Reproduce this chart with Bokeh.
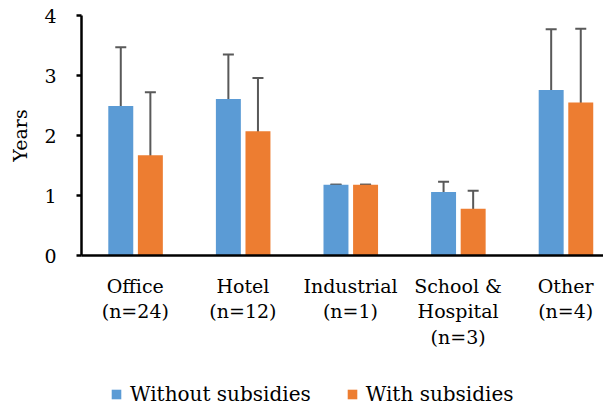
from bokeh.plotting import figure
from bokeh.layouts import column
from bokeh.models import ColumnDataSource, Whisker, TeeHead, FixedTicker, Range1d, Legend, LegendItem
from bokeh.transform import dodge
from bokeh.embed import file_html
from bokeh.resources import INLINE

categories = ["Office\n(n=24)", "Hotel\n(n=12)", "Industrial\n(n=1)", "School &\nHospital\n(n=3)", "Other\n(n=4)"]
series_names = ["Without subsidies", "With subsidies"]
without_vals = [2.49, 2.61, 1.18, 1.06, 2.76]
without_lo = [1.50, 1.87, 1.18, 0.90, 1.74]
without_hi = [3.47, 3.35, 1.18, 1.23, 3.77]
with_vals = [1.67, 2.07, 1.18, 0.78, 2.55]
with_lo = [0.63, 1.20, 1.18, 0.51, 1.29]
with_hi = [2.72, 2.96, 1.18, 1.08, 3.78]
y_ticks = [0, 1, 2, 3, 4]

BLUE = "#5B9BD5"
ORANGE = "#ED7D31"
ERR = "#595959"
FONT = "DejaVu Serif"
FS = "19px"

idx = [i + 0.5 for i in range(len(categories))]
src = ColumnDataSource(dict(idx=idx, wo=without_vals, wo_lo=without_lo, wo_hi=without_hi,
                            wi=with_vals, wi_lo=with_lo, wi_hi=with_hi))

H1 = 372
p = figure(width=603, height=H1, output_backend="svg", toolbar_location=None,
           x_range=Range1d(0, 522 / 107.6), y_range=Range1d(0, 4),
           min_border_left=81, min_border_right=0, min_border_top=15, min_border_bottom=H1 - 255)
p.outline_line_color = None
p.xgrid.visible = False
p.ygrid.visible = False

p.vbar(x=dodge("idx", -0.135, range=p.x_range), top="wo", width=0.232, source=src,
       fill_color=BLUE, line_color=None)
p.vbar(x=dodge("idx", 0.14, range=p.x_range), top="wi", width=0.232, source=src,
       fill_color=ORANGE, line_color=None)

for off, lo, hi in [(-0.135, "wo_lo", "wo_hi"), (0.14, "wi_lo", "wi_hi")]:
    w = Whisker(base=dodge("idx", off, range=p.x_range), lower=lo, upper=hi, source=src,
                dimension="height", line_color=ERR, line_width=2,
                upper_head=TeeHead(size=11, line_color=ERR, line_width=2),
                lower_head=TeeHead(size=11, line_color=ERR, line_width=2))
    p.add_layout(w)

ya = p.yaxis[0]
ya.ticker = FixedTicker(ticks=y_ticks)
ya.minor_tick_line_color = None
ya.major_tick_in = 0
ya.major_tick_out = 5
ya.major_tick_line_width = 2.5
ya.axis_line_width = 2.5
ya.axis_line_color = "black"
ya.major_tick_line_color = "black"
ya.major_label_text_font = FONT
ya.major_label_text_font_size = FS
ya.major_label_text_color = "black"
ya.major_label_standoff = 20
ya.axis_label = "Years"
ya.axis_label_text_font = FONT
ya.axis_label_text_font_size = FS
ya.axis_label_text_font_style = "normal"
ya.axis_label_text_color = "black"
ya.axis_label_standoff = 10

xa = p.xaxis[0]
xa.ticker = FixedTicker(ticks=idx)
xa.major_label_overrides = {v: c for v, c in zip(idx, categories)}
xa.minor_tick_line_color = None
xa.major_tick_line_color = None
xa.major_tick_out = 0
xa.major_tick_in = 0
xa.axis_line_width = 2.5
xa.axis_line_color = "black"
xa.major_label_text_font = FONT
xa.major_label_text_font_size = FS
xa.major_label_text_color = "black"
xa.major_label_text_line_height = 1.18
xa.major_label_standoff = 19

# legend strip below the chart (its frame is aligned with the chart's frame)
H2 = 406 - H1
lg = figure(width=603, height=H2, output_backend="svg", toolbar_location=None,
            x_range=p.x_range, y_range=Range1d(10, 11),
            min_border_left=0, min_border_right=0, min_border_top=0, min_border_bottom=0)
lg.axis.visible = False
lg.grid.visible = False
lg.outline_line_color = None
l1 = lg.vbar(x="idx", top="wo", width=0.232, source=src, fill_color=BLUE, line_color=None)
l2 = lg.vbar(x="idx", top="wi", width=0.232, source=src, fill_color=ORANGE, line_color=None)
legend = Legend(items=[LegendItem(label=series_names[0], renderers=[l1]),
                       LegendItem(label=series_names[1], renderers=[l2])],
                orientation="horizontal", location=(29, 0),
                glyph_width=12, glyph_height=12, label_standoff=8, spacing=35,
                padding=0, margin=0, border_line_color=None, background_fill_alpha=0,
                label_text_font=FONT, label_text_font_size="20px", label_text_color="black")
lg.add_layout(legend, "center")

open("out.html", "w").write(file_html(column(p, lg), INLINE))
